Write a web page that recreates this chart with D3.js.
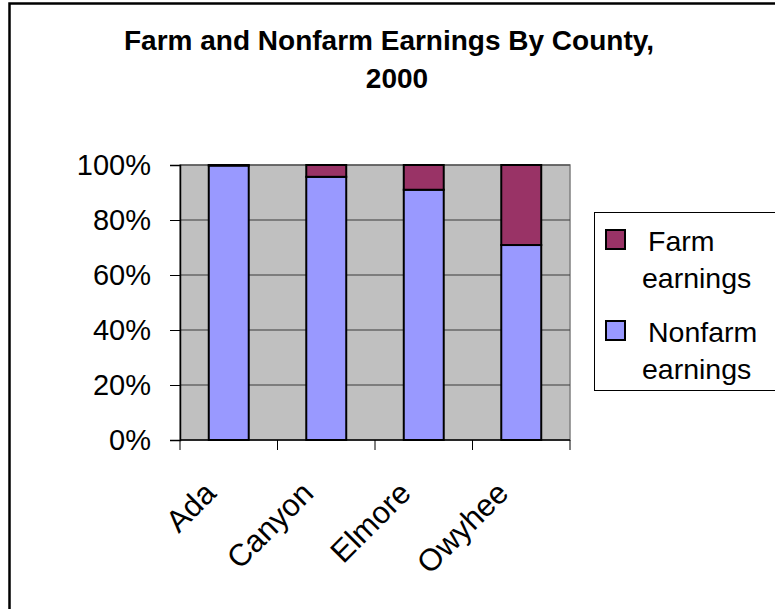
<!DOCTYPE html>
<html>
<head>
<meta charset="utf-8">
<script src="https://cdn.jsdelivr.net/npm/d3@7/dist/d3.min.js"></script>
<style>
  html, body { margin: 0; padding: 0; background: #fff; }
  svg { display: block; font-family: "Liberation Sans", Arial, sans-serif; }
</style>
</head>
<body>
<svg id="chart" width="775" height="609"></svg>
<script>
// County earnings split, 2000 (share of total earnings, %)
const counties = ["Ada", "Canyon", "Elmore", "Owyhee"];
const nonfarmShare = [99.8, 95.7, 91.0, 70.9];
const farmShare = [0.2, 4.3, 9.0, 29.1];
const yTicks = [0, 20, 40, 60, 80, 100];
const seriesNames = ["Farm earnings", "Nonfarm earnings"];
const titleLines = ["Farm and Nonfarm Earnings By County,", "2000"];

const colors = { "Farm earnings": "#993366", "Nonfarm earnings": "#9999FF" };

const svg = d3.select("#chart");

// outer chart frame
svg.append("rect")
  .attr("x", 9.5).attr("y", 3.5)
  .attr("width", 900).attr("height", 800)
  .attr("fill", "#fff").attr("stroke", "#000").attr("stroke-width", 2.5);

// title, one line per tspan
const title = svg.append("text")
  .attr("text-anchor", "middle")
  .attr("font-weight", "bold")
  .attr("font-size", 28)
  .attr("fill", "#000");
titleLines.forEach((t, i) => {
  title.append("tspan").attr("x", i === 0 ? 389 : 397).attr("y", 50 + i * 38).text(t);
});

const plot = { left: 180, right: 570, top: 165, bottom: 440 };

const x = d3.scaleBand().domain(counties).range([plot.left, plot.right]).padding(0);
const y = d3.scaleLinear().domain([0, 100]).range([plot.bottom, plot.top]);
const barW = x.bandwidth() * 0.41;

// plot area background
svg.append("rect")
  .attr("x", plot.left).attr("y", plot.top)
  .attr("width", plot.right - plot.left).attr("height", plot.bottom - plot.top)
  .attr("fill", "#C0C0C0").attr("stroke", "#808080").attr("stroke-width", 1.5);

// horizontal gridlines
svg.append("g").selectAll("line")
  .data(yTicks.filter(d => d > 0))
  .join("line")
  .attr("x1", plot.left).attr("x2", plot.right)
  .attr("y1", d => y(d)).attr("y2", d => y(d))
  .attr("stroke", "#3a3a3a").attr("stroke-width", 1);

// y axis
const yAxis = svg.append("g")
  .attr("transform", `translate(${plot.left},0)`)
  .call(d3.axisLeft(y).tickValues(yTicks).tickFormat(d => d + "%").tickSize(10).tickPadding(19));
yAxis.select(".domain").attr("stroke", "#000").attr("stroke-width", 1.5);
yAxis.selectAll(".tick line").attr("stroke", "#000").attr("stroke-width", 1);
yAxis.selectAll(".tick text")
  .attr("font-size", 29).attr("fill", "#000")
  .attr("font-family", "'Liberation Sans', Arial, sans-serif");

// x axis with ticks at category boundaries
const xAxisG = svg.append("g");
xAxisG.append("line")
  .attr("x1", plot.left).attr("x2", plot.right)
  .attr("y1", plot.bottom).attr("y2", plot.bottom)
  .attr("stroke", "#000").attr("stroke-width", 1.5);
const bounds = counties.map(c => x(c)).concat([x(counties[counties.length - 1]) + x.bandwidth()]);
xAxisG.selectAll("line.tick")
  .data(bounds)
  .join("line").attr("class", "tick")
  .attr("x1", d => d).attr("x2", d => d)
  .attr("y1", plot.bottom).attr("y2", plot.bottom + 10)
  .attr("stroke", "#000").attr("stroke-width", 1);
xAxisG.selectAll("text")
  .data(counties)
  .join("text")
  .attr("text-anchor", "end")
  .attr("font-size", 31)
  .attr("fill", "#000")
  .attr("transform", d => `translate(${x(d) + x.bandwidth() / 2 - 11},${plot.bottom + 55}) rotate(-45)`)
  .text(d => d);

// stacked bars
const rows = counties.map((c, i) => ({ county: c, "Nonfarm earnings": nonfarmShare[i], "Farm earnings": farmShare[i] }));
const stack = d3.stack().keys(["Nonfarm earnings", "Farm earnings"]);
const layers = stack(rows);

svg.append("g").selectAll("g")
  .data(layers)
  .join("g")
  .attr("fill", d => colors[d.key])
  .selectAll("rect")
  .data(d => d)
  .join("rect")
  .attr("x", d => x(d.data.county) + (x.bandwidth() - barW) / 2)
  .attr("width", barW)
  .attr("y", d => y(d[1]))
  .attr("height", d => y(d[0]) - y(d[1]))
  .attr("stroke", "#000").attr("stroke-width", 2);

// legend
const legend = svg.append("g");
legend.append("rect")
  .attr("x", 594.5).attr("y", 212.5)
  .attr("width", 250).attr("height", 178)
  .attr("fill", "#fff").attr("stroke", "#000").attr("stroke-width", 1);

const legendItems = [
  { name: seriesNames[0], lines: ["Farm", "earnings"], y0: 251 },
  { name: seriesNames[1], lines: ["Nonfarm", "earnings"], y0: 342 }
];
legendItems.forEach(item => {
  legend.append("rect")
    .attr("x", 606).attr("y", item.y0 - 21)
    .attr("width", 19).attr("height", 19)
    .attr("fill", colors[item.name]).attr("stroke", "#000").attr("stroke-width", 2);
  legend.append("text")
    .attr("x", 648).attr("y", item.y0)
    .attr("font-size", 28.5).attr("fill", "#000")
    .text(item.lines[0]);
  legend.append("text")
    .attr("x", 642).attr("y", item.y0 + 37)
    .attr("font-size", 28.5).attr("fill", "#000")
    .text(item.lines[1]);
});
</script>
</body>
</html>
